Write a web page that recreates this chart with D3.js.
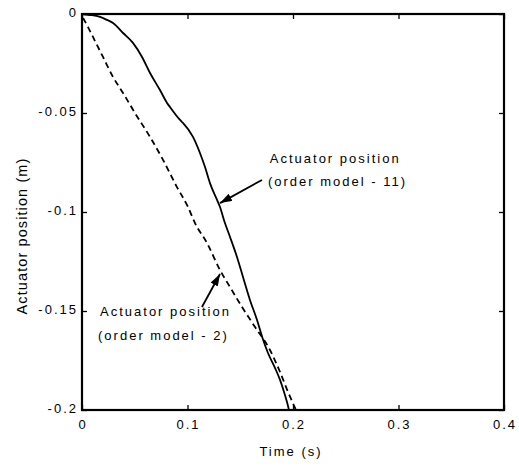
<!DOCTYPE html>
<html><head><meta charset="utf-8">
<script src="https://cdn.jsdelivr.net/npm/d3@7"></script>
<style>body{margin:0;background:#fff}svg{display:block}text{font-family:"Liberation Sans",Arial,sans-serif;fill:#000}</style>
</head><body><svg id="c" width="519" height="467"></svg>
<script>
const xTicks = [0, 0.1, 0.2, 0.3, 0.4];
const xTickLabels = ["0", "0.1", "0.2", "0.3", "0.4"];
const yTicks = [0, -0.05, -0.1, -0.15, -0.2];
const yTickLabels = ["0", "-0.05", "-0.1", "-0.15", "-0.2"];

// order model - 11 (solid)
const solidT = [0, 0.0076, 0.0123, 0.0171, 0.0237, 0.0294, 0.0389, 0.0483, 0.0569, 0.0645, 0.0739, 0.0806, 0.0834, 0.0929, 0.0957, 0.1052, 0.1118, 0.1166, 0.1213, 0.128, 0.1308, 0.1355, 0.1403, 0.1469, 0.1526, 0.1592, 0.1659, 0.1711, 0.1763, 0.183, 0.1877, 0.1915, 0.1943, 0.1962];
const solidY = [0, -0.0005, -0.0008, -0.0015, -0.003, -0.0045, -0.0096, -0.0146, -0.0217, -0.0298, -0.0384, -0.0449, -0.047, -0.0535, -0.055, -0.0621, -0.0702, -0.0773, -0.0854, -0.0939, -0.0975, -0.1056, -0.1126, -0.1227, -0.1328, -0.1444, -0.1545, -0.1636, -0.1712, -0.1788, -0.1848, -0.1909, -0.196, -0.2];
// order model - 2 (dashed)
const dashT = [0.001, 0.0057, 0.0104, 0.0199, 0.0294, 0.0389, 0.0502, 0.0645, 0.0768, 0.09, 0.1005, 0.1071, 0.1185, 0.1308, 0.1403, 0.1517, 0.164, 0.1782, 0.1877, 0.1953, 0.2028];
const dashY = [-0.002, -0.0066, -0.0116, -0.0217, -0.0318, -0.0399, -0.05, -0.0621, -0.0737, -0.0874, -0.0975, -0.1056, -0.1157, -0.1293, -0.1379, -0.148, -0.1581, -0.1697, -0.1808, -0.1909, -0.2];

const annLines1 = ["Actuator position", "(order model - 11)"];
const annLines2 = ["Actuator position", "(order model - 2)"];

const svg = d3.select("#c");
const L = 82, R = 504, T = 14, B = 410;
const x = d3.scaleLinear().domain([0, 0.4]).range([L, R]);
const y = d3.scaleLinear().domain([-0.2, 0]).range([B, T]);

const defs = svg.append("defs");
defs.append("marker").attr("id", "ah").attr("viewBox", "0 0 12 8")
  .attr("refX", 12).attr("refY", 4).attr("markerWidth", 12).attr("markerHeight", 8)
  .attr("markerUnits", "userSpaceOnUse").attr("orient", "auto")
  .append("path").attr("d", "M0,0 L12,4 L0,8 Z").attr("fill", "#000");

const g = svg.append("g");
const ax = (axis, tr) => g.append("g").attr("transform", tr).call(axis)
  .call(s => s.select(".domain").remove())
  .call(s => s.selectAll("line").attr("stroke", "#000").attr("stroke-width", 1.3));
ax(d3.axisTop(x).tickValues(xTicks).tickSize(5).tickFormat(""), `translate(0,${B})`);
ax(d3.axisBottom(x).tickValues(xTicks).tickSize(5).tickFormat(""), `translate(0,${T})`);
ax(d3.axisRight(y).tickValues(yTicks).tickSize(5).tickFormat(""), `translate(${L},0)`);
ax(d3.axisLeft(y).tickValues(yTicks).tickSize(5).tickFormat(""), `translate(${R},0)`);

g.selectAll(".xl").data(xTicks).join("text")
  .attr("x", d => x(d) + 1).attr("y", 429).attr("text-anchor", "middle")
  .attr("font-size", 13).attr("letter-spacing", 2).text((d, i) => xTickLabels[i]);
g.selectAll(".yl").data(yTicks).join("text")
  .attr("x", L - 4).attr("y", d => y(d) + 3).attr("text-anchor", "end")
  .attr("font-size", 13).attr("letter-spacing", 2).text((d, i) => yTickLabels[i]);

const lineS = d3.line().x(d => x(d[0])).y(d => y(d[1])).curve(d3.curveMonotoneX);
g.append("path").datum(solidT.map((t, i) => [t, solidY[i]])).attr("d", lineS)
  .attr("fill", "none").attr("stroke", "#000").attr("stroke-width", 1.8);
g.append("path").datum(dashT.map((t, i) => [t, dashY[i]])).attr("d", lineS)
  .attr("fill", "none").attr("stroke", "#000").attr("stroke-width", 1.8).attr("stroke-dasharray", "6,4");

g.append("rect").attr("x", L).attr("y", T).attr("width", R - L).attr("height", B - T)
  .attr("fill", "none").attr("stroke", "#000").attr("stroke-width", 2.2);

g.append("text").attr("x", 291).attr("y", 456).attr("text-anchor", "middle")
  .attr("font-size", 13).attr("letter-spacing", 2).text("Time (s)");
g.append("text").attr("transform", "translate(27,236) rotate(-90)").attr("text-anchor", "middle")
  .attr("font-size", 14.5).attr("letter-spacing", 1.1).text("Actuator position (m)");

const ann = (lines, pos) => lines.forEach((t, i) => g.append("text")
  .attr("x", x(pos[i][0])).attr("y", y(pos[i][1])).attr("font-size", 13).attr("letter-spacing", 2).text(t));
ann(annLines1, [[0.178, -0.0753], [0.1763, -0.0869]]);
ann(annLines2, [[0.0171, -0.1525], [0.0152, -0.1646]]);
const arrow = (a, b) => g.append("line").attr("x1", x(a[0])).attr("y1", y(a[1]))
  .attr("x2", x(b[0])).attr("y2", y(b[1])).attr("stroke", "#000").attr("stroke-width", 1.8)
  .attr("marker-end", "url(#ah)");
arrow([0.1706, -0.0838], [0.1308, -0.0955]);
arrow([0.1137, -0.148], [0.1308, -0.1313]);
</script></body></html>
